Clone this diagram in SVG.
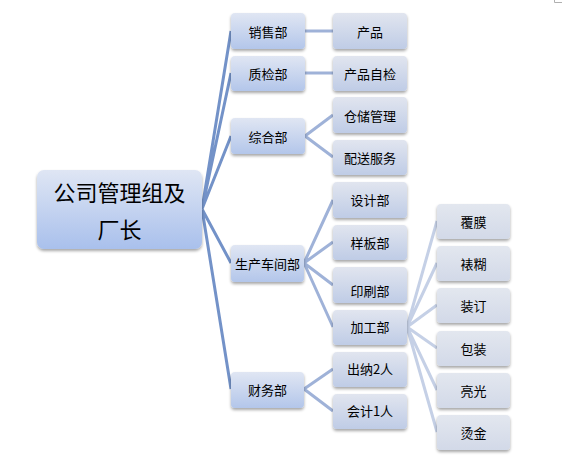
<svg xmlns="http://www.w3.org/2000/svg" width="562" height="458" viewBox="0 0 562 458">
<defs>
<linearGradient id="g0" x1="0" y1="0" x2="0" y2="1"><stop offset="0" stop-color="#dfe6f4"/><stop offset="1" stop-color="#a9c0ec"/></linearGradient>
<linearGradient id="g1" x1="0" y1="0" x2="0" y2="1"><stop offset="0" stop-color="#e0e6f3"/><stop offset="1" stop-color="#b3c6ea"/></linearGradient>
<linearGradient id="g2" x1="0" y1="0" x2="0" y2="1"><stop offset="0" stop-color="#e1e5ef"/><stop offset="1" stop-color="#bfcce6"/></linearGradient>
<linearGradient id="g3" x1="0" y1="0" x2="0" y2="1"><stop offset="0" stop-color="#e3e7ef"/><stop offset="1" stop-color="#d2d9e8"/></linearGradient>
<filter id="sh" x="-20%" y="-20%" width="140%" height="150%"><feGaussianBlur in="SourceAlpha" stdDeviation="1.5"/><feOffset dx="0" dy="1.5"/><feComponentTransfer><feFuncA type="linear" slope="0.35"/></feComponentTransfer><feMerge><feMergeNode/><feMergeNode in="SourceGraphic"/></feMerge></filter>
</defs>
<style>
text{font-family:"Noto Sans CJK SC","Liberation Sans",sans-serif;text-anchor:middle;dominant-baseline:central;fill:#000;}
.t{font-size:13px;}
.r{font-size:22px;}
.n0{fill:url(#g0);filter:url(#sh);}
.n1{fill:url(#g1);filter:url(#sh);}
.n2{fill:url(#g2);filter:url(#sh);}
.n3{fill:url(#g3);filter:url(#sh);}
.c0{stroke:#7392c8;stroke-width:3;fill:none;}
.c1{stroke:#9fb2d8;stroke-width:3;fill:none;}
.c2{stroke:#c5d0e6;stroke-width:3;fill:none;}
</style>
<rect width="562" height="458" fill="#fff"/>
<path d="M554.5 0V2.5H562" stroke="#b0b0b0" stroke-width="1" fill="none"/>
<g id="connectors">
<path class="c0" d="M202 209L231 31M202 209L231 73M202 209L231 136M202 209L231 263M202 209L231 389"/>
<path class="c1" d="M305 31H333M305 73H333M305 136L333 115M305 136L333 157M304 263L333 200M304 263L333 242M304 263L333 285M304 263L333 327M304 389L333 369M304 389L333 411"/>
<path class="c2" d="M407 327L437 221M407 327L437 263M407 327L437 305M407 327L437 348M407 327L437 390M407 327L437 432"/>
</g>
<g id="root"><rect class="n0" x="37" y="170" width="165" height="79" rx="7"/><text class="r" x="119.5" y="191">公司管理组及</text><text class="r" x="119.5" y="228">厂长</text></g>
<g id="xiaoshou"><rect class="n1" x="231" y="13" width="74" height="36" rx="4"/><text class="t" x="268" y="31">销售部</text></g>
<g id="zhijian"><rect class="n1" x="231" y="56" width="74" height="35" rx="4"/><text class="t" x="268" y="73">质检部</text></g>
<g id="zonghe"><rect class="n1" x="231" y="118" width="74" height="36" rx="4"/><text class="t" x="268" y="136">综合部</text></g>
<g id="shengchan"><rect class="n1" x="231" y="245" width="73" height="37" rx="4"/><text class="t" x="267.5" y="263">生产车间部</text></g>
<g id="caiwu"><rect class="n1" x="231" y="372" width="73" height="36" rx="4"/><text class="t" x="267.5" y="389">财务部</text></g>
<g id="chanpin"><rect class="n2" x="333" y="13" width="74" height="36" rx="4"/><text class="t" x="370" y="31">产品</text></g>
<g id="zijian"><rect class="n2" x="333" y="56" width="74" height="35" rx="4"/><text class="t" x="370" y="73">产品自检</text></g>
<g id="cangchu"><rect class="n2" x="333" y="97" width="74" height="36" rx="4"/><text class="t" x="370" y="115">仓储管理</text></g>
<g id="peisong"><rect class="n2" x="333" y="140" width="74" height="35" rx="4"/><text class="t" x="370" y="157">配送服务</text></g>
<g id="sheji"><rect class="n2" x="333" y="182" width="74" height="36" rx="4"/><text class="t" x="370" y="199">设计部</text></g>
<g id="yangban"><rect class="n2" x="333" y="225" width="74" height="35" rx="4"/><text class="t" x="370" y="242">样板部</text></g>
<g id="yinshua"><rect class="n2" x="333" y="267" width="74" height="36" rx="4"/><text class="t" x="370" y="290">印刷部</text></g>
<g id="jiagong"><rect class="n2" x="333" y="310" width="74" height="35" rx="4"/><text class="t" x="370" y="326">加工部</text></g>
<g id="chuna"><rect class="n2" x="333" y="352" width="74" height="35" rx="4"/><text class="t" x="370" y="368">出纳2人</text></g>
<g id="kuaiji"><rect class="n2" x="333" y="394" width="74" height="35" rx="4"/><text class="t" x="370" y="410">会计1人</text></g>
<g id="fumo"><rect class="n3" x="437" y="204" width="73" height="35" rx="4"/><text class="t" x="473.5" y="221">覆膜</text></g>
<g id="biaohu"><rect class="n3" x="437" y="246" width="73" height="35" rx="4"/><text class="t" x="473.5" y="263">裱糊</text></g>
<g id="zhuangding"><rect class="n3" x="437" y="288" width="73" height="35" rx="4"/><text class="t" x="473.5" y="305">装订</text></g>
<g id="baozhuang"><rect class="n3" x="437" y="331" width="73" height="35" rx="4"/><text class="t" x="473.5" y="348">包装</text></g>
<g id="liangguang"><rect class="n3" x="437" y="373" width="73" height="35" rx="4"/><text class="t" x="473.5" y="390">亮光</text></g>
<g id="tangjin"><rect class="n3" x="437" y="415" width="73" height="35" rx="4"/><text class="t" x="473.5" y="432">烫金</text></g>
</svg>
